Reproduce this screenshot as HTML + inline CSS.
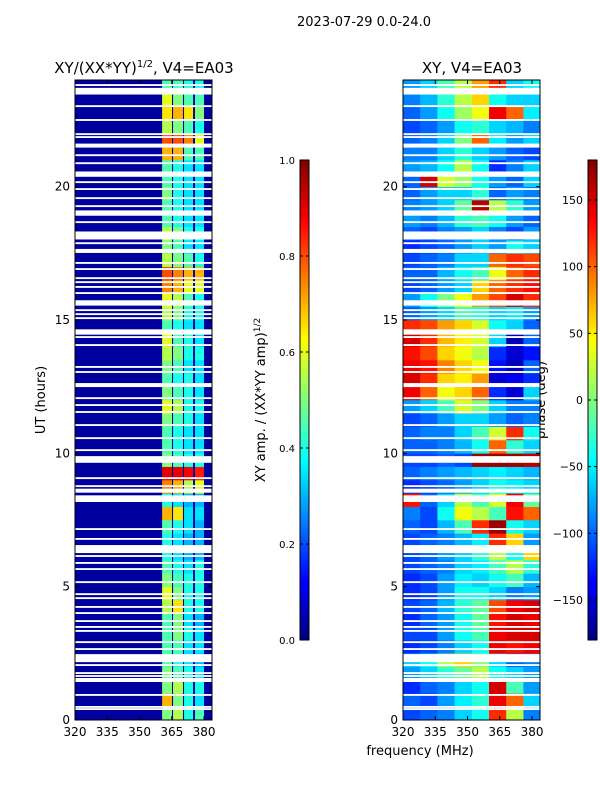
<!DOCTYPE html>
<html><head><meta charset="utf-8"><style>
html,body{margin:0;padding:0;background:#fff;}
svg text{font-family:"DejaVu Sans","Liberation Sans",sans-serif;fill:#000;}
</style></head><body>
<svg id="chart" width="600" height="800" xmlns="http://www.w3.org/2000/svg">
<text x="364" y="26" font-size="13" text-anchor="middle">2023-07-29 0.0-24.0</text>
<text x="144" y="73" font-size="15" text-anchor="middle">XY/(XX*YY)<tspan font-size="10" dy="-6">1/2</tspan><tspan dy="6">, V4=EA03</tspan></text>
<text x="472" y="73" font-size="15" text-anchor="middle">XY, V4=EA03</text>
<text transform="translate(45,400) rotate(-90)" font-size="13" text-anchor="middle">UT (hours)</text>
<text x="420" y="755" font-size="13" text-anchor="middle">frequency (MHz)</text>
<text transform="translate(265,400) rotate(-90)" font-size="13" text-anchor="middle">XY amp. / (XX*YY amp)<tspan font-size="9" dy="-5">1/2</tspan></text>
<text transform="translate(545,400) rotate(-90)" font-size="13" text-anchor="middle">phase (deg)</text>
<g id="left"></g><g id="right"></g><g id="cb1"></g><g id="cb2"></g>
</svg>
<script>
const xTicks=[320,335,350,365,380];
const yTicks=[0,5,10,15,20];
const ampTicks=[0.0,0.2,0.4,0.6,0.8,1.0];
const phaseTicks=[-150,-100,-50,0,50,100,150];
const bandEdges=[[360.5,365.1],[365.6,370.2],[370.7,374.9],[375.8,380]];
const ampBackground=0.03;
const ampRows=[
[0.5,0.55,0.4,0.45],[0.7,0.5,0.4,0.35],[0.5,0.55,0.4,0.4],[0.5,0.45,0.4,0.35],
[0.45,0.4,0.35,0.3],[0.45,0.45,0.35,0.35],[0.45,0.5,0.4,0.35],[0.45,0.5,0.35,0.3],
[0.55,0.65,0.4,0.4],[0.6,0.5,0.4,0.4],[0.5,0.45,0.4,0.4],[0.45,0.4,0.35,0.4],
[0.4,0.35,0.3,0.3],[0.4,0.35,0.3,0.3],[0.45,0.4,0.35,0.3],[0.7,0.65,0.35,0.35],
[0.4,0.35,0.3,0.3],[0.75,0.7,0.55,0.6],[0.9,0.9,0.88,0.85],[0.5,0.45,0.4,0.4],
[0.45,0.4,0.35,0.35],[0.45,0.4,0.35,0.35],[0.5,0.45,0.4,0.35],[0.6,0.55,0.4,0.4],
[0.5,0.45,0.4,0.35],[0.45,0.4,0.4,0.35],[0.5,0.45,0.35,0.35],[0.55,0.5,0.4,0.4],
[0.6,0.45,0.4,0.35],[0.45,0.4,0.35,0.35],[0.55,0.5,0.4,0.4],[0.6,0.55,0.45,0.4],
[0.75,0.7,0.6,0.6],[0.8,0.75,0.7,0.7],[0.55,0.5,0.45,0.4],[0.5,0.45,0.35,0.35],
[0.55,0.5,0.4,0.4],[0.45,0.4,0.35,0.35],[0.45,0.4,0.35,0.35],[0.5,0.4,0.35,0.35],
[0.45,0.4,0.35,0.35],[0.45,0.4,0.35,0.35],[0.7,0.7,0.45,0.45],[0.8,0.8,0.75,0.6],
[0.55,0.5,0.45,0.4],[0.65,0.7,0.65,0.5],[0.6,0.5,0.45,0.45],[0.45,0.45,0.4,0.4]];
const phaseCols=[320,328,336,344,352,360,368,376];
const phaseRows=[
[-110,-100,-90,-60,-40,120,20,-90],[-100,-110,-80,-50,-30,140,100,-60],[-120,-100,-90,-60,-40,150,-20,-80],[-80,-60,-30,-10,20,-40,-60,-80],
[-60,-40,20,60,0,-60,-100,-90],[-120,-110,-90,-60,-40,140,130,140],[-110,-110,-80,-40,-20,140,150,150],[-120,-100,-80,-40,-10,130,150,140],
[-110,-100,-70,-30,-10,110,140,150],[-120,-110,-80,-40,-40,-60,-90,-80],[-120,-110,-80,-50,-60,-40,-20,-70],[-110,-100,-90,-60,-50,-20,20,-30],
[-110,-100,-80,-60,-30,20,-40,60],[-110,-100,-90,-70,-50,120,60,-80],[-100,-110,-70,-20,120,170,-40,-60],[-90,-110,-40,40,20,-20,130,100],
[130,-100,-60,20,-20,30,140,-10],[-120,-110,-100,-80,-60,-40,-50,-60],[-100,-90,-80,-70,-60,-50,-60,-70],[-110,-110,-100,-110,170,170,170,160],
[-100,-100,-90,-70,-40,100,-30,-60],[-100,-90,-90,-60,-20,30,120,-40],[-110,-100,-80,-60,-60,-80,-100,-90],[-80,-60,-20,30,0,-60,-90,-90],
[140,100,40,60,100,-120,-150,-60],[150,120,60,50,80,-150,-140,-120],[140,130,90,60,40,-130,-160,-100],[130,110,60,40,20,-120,-150,-130],
[150,120,70,50,30,-60,-160,-100],[120,110,80,60,30,-40,-60,-100],[-100,-80,-60,-20,-30,-60,-50,-80],[-80,-40,0,40,80,110,150,120],
[-110,-100,-80,-60,60,100,120,130],[-100,-100,-70,-40,-20,40,100,120],[-110,-100,-90,-60,-60,100,120,110],[-120,-110,-100,-80,-60,-80,-40,-60],
[-100,-110,-90,-80,-60,-90,-110,-80],[-80,-90,-70,-30,-20,-40,-80,-100],[-90,-80,-60,-10,160,20,-30,-80],[-100,-80,-60,-60,-30,-100,-80,-90],
[-100,150,30,10,-40,-80,-100,-60],[-80,-70,-40,20,-40,-120,-90,-60],[-90,-90,-60,-30,-60,-80,-100,-110],[-100,-90,-60,0,100,-50,-80,-60],
[-110,-100,-80,-40,-30,-60,-70,-90],[-100,-80,-40,10,40,140,100,-50],[-90,-70,-30,20,60,-40,-60,-60],[-80,-60,-20,20,80,120,-60,-40]];
const gapHours=[23.81,23.58,23.02,22.5,21.97,21.86,21.54,21.18,20.88,20.47,20.17,19.91,19.57,19.27,19.01,18.67,18.17,17.88,17.59,17.14,16.91,16.57,16.42,16.24,16.01,15.64,15.37,15.22,15.07,14.55,14.36,14.06,13.24,13.05,12.56,12.07,11.81,11.55,11.06,10.57,10.12,9.77,9.07,8.77,8.6,8.3,7.16,6.79,6.41,6.15,5.89,5.66,5.17,4.72,4.57,4.24,4.01,3.71,3.49,3.34,2.92,2.66,2.32,2.06,1.76,1.65,1.5,0.94,0.49,0.41];
const gapWidths=[0.07,0.25,0.07,0.07,0.07,0.07,0.15,0.07,0.07,0.2,0.07,0.07,0.07,0.07,0.2,0.07,0.3,0.07,0.15,0.07,0.07,0.07,0.07,0.07,0.07,0.2,0.07,0.07,0.07,0.2,0.07,0.07,0.07,0.07,0.15,0.07,0.07,0.07,0.07,0.07,0.07,0.25,0.07,0.07,0.15,0.25,0.07,0.07,0.3,0.07,0.07,0.07,0.07,0.07,0.07,0.07,0.07,0.07,0.07,0.07,0.07,0.07,0.3,0.07,0.07,0.07,0.15,0.07,0.07,0.07];

const NS='http://www.w3.org/2000/svg';
const PT=80,PB=720,W=137,FMIN=320,FMAX=383.7,TMAX=24;
function yScale(h){return PB-(h/TMAX)*(PB-PT);}
function xScaleF(x0){return f=>x0+(f-FMIN)/(FMAX-FMIN)*W;}
function clip(v){return Math.max(0,Math.min(1,v));}
function jet(v){v=clip(v);const r=clip(1.5-Math.abs(4*v-3)),g=clip(1.5-Math.abs(4*v-2)),b=clip(1.5-Math.abs(4*v-1));return `rgb(${Math.round(r*255)},${Math.round(g*255)},${Math.round(b*255)})`;}
function el(p,tag,attrs){const e=document.createElementNS(NS,tag);for(const k in attrs)e.setAttribute(k,attrs[k]);p.appendChild(e);return e;}

function drawGaps(g,x0){
  gapHours.forEach((h,i)=>{const r=el(g,'rect',{x:x0,y:yScale(h+gapWidths[i]/2),width:W,height:Math.max(1.5,yScale(h-gapWidths[i]/2)-yScale(h+gapWidths[i]/2)),fill:'#fff'});
  
  });
}
function drawAxes(g,x0){
  const xs=xScaleF(x0);
  const fr=el(g,'rect',{x:x0,y:PT,width:W,height:PB-PT,fill:'none',stroke:'#000','stroke-width':1});
  
  
  xTicks.forEach(t=>{const x=xs(t);
    el(g,'line',{x1:x,x2:x,y1:PB,y2:PB-4,stroke:'#000'});el(g,'line',{x1:x,x2:x,y1:PT,y2:PT+4,stroke:'#000'});
    const tx=el(g,'text',{x:x,y:PB+16,'font-size':12,'text-anchor':'middle'});tx.textContent=t;
    
    });
  yTicks.forEach(t=>{const y=yScale(t);
    el(g,'line',{x1:x0,x2:x0+4,y1:y,y2:y,stroke:'#000'});el(g,'line',{x1:x0+W,x2:x0+W-4,y1:y,y2:y,stroke:'#000'});
    const tx=el(g,'text',{x:x0-5,y:y+4,'font-size':12,'text-anchor':'end'});tx.textContent=t;
    
    });
}
const gl=document.getElementById('left');


const xl=xScaleF(75);
el(gl,'rect',{x:75,y:PT,width:W,height:PB-PT,fill:jet(ampBackground)});
ampRows.forEach((row,i)=>{row.forEach((v,j)=>{
  const x1=xl(bandEdges[j][0]),x2=xl(bandEdges[j][1]);
  const c=el(gl,'rect',{x:x1,y:yScale((i+1)*0.5),width:x2-x1,height:yScale(i*0.5)-yScale((i+1)*0.5)+0.3,fill:jet(v)});
  
  
});});
drawGaps(gl,75);drawAxes(gl,75);
const gr=document.getElementById('right');


const xr=xScaleF(403);
phaseRows.forEach((row,i)=>{row.forEach((v,j)=>{
  const x1=xr(phaseCols[j]),x2=xr(j+1<phaseCols.length?phaseCols[j+1]:FMAX);
  const c=el(gr,'rect',{x:x1,y:yScale((i+1)*0.5),width:x2-x1+0.3,height:yScale(i*0.5)-yScale((i+1)*0.5)+0.3,fill:jet((v+180)/360)});
  
  
});});
drawGaps(gr,403);drawAxes(gr,403);
function colorbar(id,x,ticks,vmin,vmax,fmt){
  const g=document.getElementById(id);
  
  
  const T=160,B=640,N=120;
  for(let i=0;i<N;i++){el(g,'rect',{x:x,y:B-(i+1)*(B-T)/N,width:9,height:(B-T)/N+0.5,fill:jet((i+0.5)/N)});}
  el(g,'rect',{x:x,y:T,width:9,height:B-T,fill:'none',stroke:'#000'});
  ticks.forEach(t=>{const y=B-(t-vmin)/(vmax-vmin)*(B-T);
    el(g,'line',{x1:x,x2:x+3,y1:y,y2:y,stroke:'#000'});el(g,'line',{x1:x+9,x2:x+6,y1:y,y2:y,stroke:'#000'});
    const tx=el(g,'text',{x:x-5,y:y+4,'font-size':id==='cb1'?10:11,'text-anchor':'end'});tx.textContent=fmt(t);
    
    });
}
colorbar('cb1',300,ampTicks,0,1,t=>t.toFixed(1));
colorbar('cb2',588,phaseTicks,-180,180,t=>t<0?'\u2212'+(-t):String(t));
</script>
</body></html>
